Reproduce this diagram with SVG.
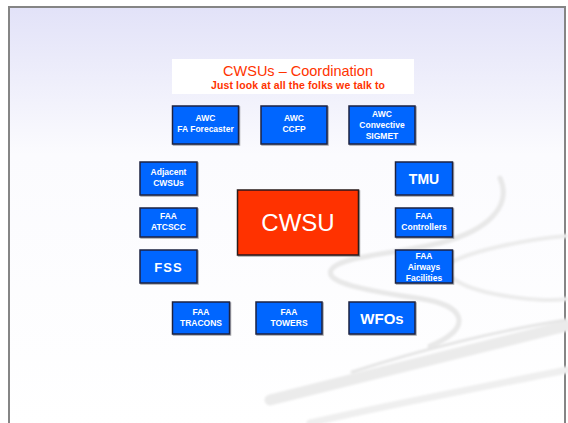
<svg xmlns="http://www.w3.org/2000/svg" width="568" height="423" viewBox="0 0 568 423">
<defs>
<linearGradient id="bg" x1="0" y1="0" x2="0" y2="1">
<stop offset="0" stop-color="#e2e2f8"/>
<stop offset="0.35" stop-color="#fbfbfe"/>
<stop offset="1" stop-color="#ffffff"/>
</linearGradient>
<filter id="sh" x="-10%" y="-10%" width="130%" height="130%">
<feDropShadow dx="1" dy="1" stdDeviation="0.6" flood-color="#000" flood-opacity="0.35"/>
</filter>
<filter id="blur"><feGaussianBlur stdDeviation="0.8"/></filter>
</defs>
<style>
.box{fill:#0066ff;stroke:#1c2340;stroke-width:1.5;filter:url(#sh)}
.t{font-family:"Liberation Sans",Arial,sans-serif;font-weight:bold;fill:#ffffff;text-anchor:middle}
.s{font-size:8.5px}
.big{font-size:14px}
.sw{fill:none;stroke-linecap:round}
</style>
<rect x="0" y="0" width="568" height="423" fill="#ffffff"/>
<rect x="9" y="7" width="556" height="420" fill="url(#bg)" stroke="#858585" stroke-width="2"/>
<g id="swooshes" filter="url(#blur)">
<path class="sw" d="M500 178 C512 205 490 230 440 243 C390 255 340 256 331 270 C324 285 380 292 428 300 C468 308 470 330 430 346" stroke="#e8e8e8" stroke-width="5"/>
<path class="sw" d="M566 236 C520 240 470 252 452 262 C438 272 455 290 520 298 C545 301 560 300 566 299" stroke="#ececec" stroke-width="4"/>
<path class="sw" d="M270 400 C380 372 480 348 566 326" stroke="#ebebeb" stroke-width="11"/>
<path class="sw" d="M310 423 C400 402 490 386 566 370" stroke="#efefef" stroke-width="7"/>
<path class="sw" d="M352 372 C420 350 500 330 566 320" stroke="#e6e6e6" stroke-width="3"/>
</g>
<g id="title">
<rect x="172" y="59" width="242" height="35" fill="#ffffff"/>
<text x="298" y="76" font-family="'Liberation Sans',Arial,sans-serif" font-size="14.5" fill="#ff3300" text-anchor="middle">CWSUs – Coordination</text>
<text x="298" y="88.5" font-family="'Liberation Sans',Arial,sans-serif" font-size="10.5" font-weight="bold" fill="#ff3300" text-anchor="middle" textLength="174" lengthAdjust="spacing">Just look at all the folks we talk to</text>
</g>
<g id="connectors"></g>
<g id="awc-fa">
<rect class="box" x="172.5" y="106" width="66" height="38"/>
<text class="t s" x="205.5" y="121">AWC</text>
<text class="t s" x="205.5" y="132">FA Forecaster</text>
</g>
<g id="awc-ccfp">
<rect class="box" x="261" y="106" width="66" height="38"/>
<text class="t s" x="294" y="121">AWC</text>
<text class="t s" x="294" y="132">CCFP</text>
</g>
<g id="awc-sigmet">
<rect class="box" x="349" y="106" width="66" height="38"/>
<text class="t s" x="382" y="117">AWC</text>
<text class="t s" x="382" y="127.5">Convective</text>
<text class="t s" x="382" y="139">SIGMET</text>
</g>
<g id="adjacent">
<rect class="box" x="140" y="162" width="57" height="33"/>
<text class="t s" x="168.5" y="175">Adjacent</text>
<text class="t s" x="168.5" y="185.5">CWSUs</text>
</g>
<g id="atcscc">
<rect class="box" x="140" y="208" width="57" height="29"/>
<text class="t s" x="168.5" y="219">FAA</text>
<text class="t s" x="168.5" y="230">ATCSCC</text>
</g>
<g id="fss">
<rect class="box" x="140" y="250" width="57" height="33"/>
<text class="t" x="168.5" y="271.5" font-size="13" letter-spacing="1">FSS</text>
</g>
<g id="cwsu">
<rect x="237.5" y="190" width="121" height="65" fill="#ff3300" stroke="#2a1a1a" stroke-width="1.5" filter="url(#sh)"/>
<text x="298" y="231" font-family="'Liberation Sans',Arial,sans-serif" font-size="24" fill="#ffffff" text-anchor="middle">CWSU</text>
</g>
<g id="tmu">
<rect class="box" x="395.5" y="162" width="57" height="33"/>
<text class="t big" x="424" y="183.5">TMU</text>
</g>
<g id="controllers">
<rect class="box" x="395.5" y="208" width="57" height="29"/>
<text class="t s" x="424" y="219">FAA</text>
<text class="t s" x="424" y="230">Controllers</text>
</g>
<g id="airways">
<rect class="box" x="395.5" y="250" width="57" height="33"/>
<text class="t s" x="424" y="259">FAA</text>
<text class="t s" x="424" y="269.5">Airways</text>
<text class="t s" x="424" y="280.5">Facilities</text>
</g>
<g id="tracons">
<rect class="box" x="172.5" y="302" width="57" height="32"/>
<text class="t s" x="201" y="314.5">FAA</text>
<text class="t s" x="201" y="325.5">TRACONS</text>
</g>
<g id="towers">
<rect class="box" x="256" y="302" width="66" height="32"/>
<text class="t s" x="289" y="314.5">FAA</text>
<text class="t s" x="289" y="325.5">TOWERS</text>
</g>
<g id="wfos">
<rect class="box" x="349" y="302" width="66" height="32"/>
<text class="t" x="382" y="323.5" font-size="15">WFOs</text>
</g>
</svg>
